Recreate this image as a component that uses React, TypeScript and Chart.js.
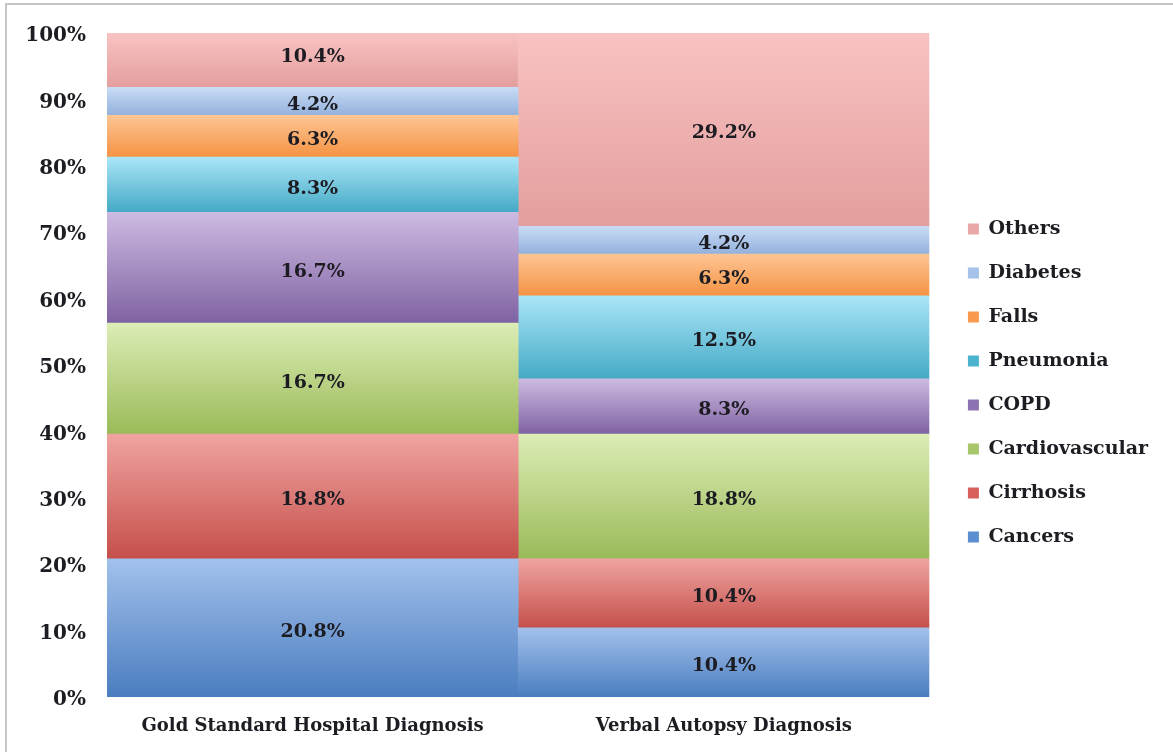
import React, { useEffect, useRef } from "react";
import { Chart, registerables } from "chart.js";

Chart.register(...registerables);

// ---- data ----
const categories = ["Gold Standard Hospital Diagnosis", "Verbal Autopsy Diagnosis"];
const seriesNames = ["Cancers", "Cirrhosis", "Cardiovascular", "COPD", "Pneumonia", "Falls", "Diabetes", "Others"];
const cancers = [20.8, 10.4];
const cirrhosis = [18.8, 10.4];
const cardiovascular = [16.7, 18.8];
const copd = [16.7, 8.3];
const pneumonia = [8.3, 12.5];
const falls = [6.3, 6.3];
const diabetes = [4.2, 4.2];
const others = [10.4, 29.2];
const yTicks = [0, 10, 20, 30, 40, 50, 60, 70, 80, 90, 100];

const seriesValues = [cancers, cirrhosis, cardiovascular, copd, pneumonia, falls, diabetes, others];

// [light top, dark bottom, legend swatch]
const seriesColors: string[][] = [
  ["#a3c1ec", "#4a7dbf", "#5b8fd2"],
  ["#efa4a0", "#c54f4b", "#d8605c"],
  ["#dcedb6", "#9aba58", "#a8c76a"],
  ["#cdbbe2", "#7f62a2", "#8d73b1"],
  ["#aae6f7", "#44a9c6", "#4cb3cf"],
  ["#fdc594", "#f59343", "#f79a50"],
  ["#c9dcf6", "#93b1dc", "#a6c2ea"],
  ["#f9c3c3", "#e39e9d", "#eaa7a7"],
];

const FONT = '"DejaVu Serif", serif';
const TEXT = "#1c1c22";

const makeBg = (di: number) => (ctx: any) => {
  const [light, dark] = seriesColors[di];
  if (ctx.type !== "data") return dark;
  const chart = ctx.chart;
  const y = chart.scales && chart.scales.y;
  const area = chart.chartArea;
  if (!y || !area) return dark;
  let start = 0;
  for (let k = 0; k < di; k++) start += seriesValues[k][ctx.dataIndex];
  const end = start + seriesValues[di][ctx.dataIndex];
  const top = Math.max(y.getPixelForValue(end), area.top);
  const bottom = Math.min(y.getPixelForValue(start), area.bottom);
  if (!(bottom > top)) return dark;
  const g = chart.ctx.createLinearGradient(0, top, 0, bottom);
  g.addColorStop(0, light);
  g.addColorStop(1, dark);
  return g;
};

const valueLabels = {
  id: "valueLabels",
  afterDatasetsDraw(chart: any) {
    const { ctx, chartArea } = chart;
    ctx.save();
    ctx.font = `bold 19px ${FONT}`;
    ctx.fillStyle = TEXT;
    ctx.textAlign = "center";
    ctx.textBaseline = "middle";
    chart.data.datasets.forEach((ds: any, i: number) => {
      const meta = chart.getDatasetMeta(i);
      meta.data.forEach((el: any, j: number) => {
        const { x, y, base } = el.getProps(["x", "y", "base"], true);
        const top = Math.min(y, base);
        const bottom = Math.max(y, base);
        if (bottom <= chartArea.top) return;
        let cy = (top + bottom) / 2 + 4;
        const visTop = Math.max(top, chartArea.top);
        if (cy < visTop + 12) cy = (visTop + bottom) / 2;
        ctx.fillText(Number(ds.data[j]).toFixed(1) + "%", x, cy);
      });
    });
    ctx.restore();
  },
};

const legendShift = {
  id: "legendShift",
  beforeDraw(chart: any) {
    const lg = chart.legend;
    if (!lg) return;
    const w = lg.width;
    const h = lg.height;
    lg.left = chart.chartArea.right + 13.5;
    lg.right = lg.left + w;
    lg.top = chart.chartArea.top - 10.5;
    lg.bottom = lg.top + h;
  },
};

export default function App() {
  const ref = useRef<HTMLCanvasElement | null>(null);

  useEffect(() => {
    if (!ref.current) return;
    const chart = new Chart(ref.current, {
      type: "bar",
      data: {
        labels: categories,
        datasets: seriesNames.map((name, i) => ({
          label: name,
          data: seriesValues[i],
          backgroundColor: makeBg(i),
          borderWidth: 0,
          barPercentage: 1,
          categoryPercentage: 1,
        })),
      },
      options: {
        animation: false,
        responsive: false,
        layout: { padding: { left: 0, right: 28.5, top: 31, bottom: 0 } },
        plugins: {
          legend: {
            position: "right",
            reverse: true,
            labels: {
              boxWidth: 11,
              boxHeight: 11,
              padding: 25,
              color: TEXT,
              font: { family: FONT, size: 19, weight: "bold" },
              generateLabels: (chart: any) => {
                const items = Chart.defaults.plugins.legend.labels.generateLabels(chart);
                return items.map((it: any) => ({
                  ...it,
                  fillStyle: seriesColors[it.datasetIndex][2],
                  strokeStyle: seriesColors[it.datasetIndex][2],
                  lineWidth: 0,
                }));
              },
            },
          },
          tooltip: { enabled: false },
        },
        scales: {
          x: {
            stacked: true,
            grid: { display: false, drawTicks: false },
            border: { display: false },
            afterFit: (s: any) => {
              s.height = 55;
            },
            ticks: {
              padding: 19,
              color: TEXT,
              font: { family: FONT, size: 18, weight: "bold" },
              maxRotation: 0,
            },
          },
          y: {
            stacked: true,
            min: 0,
            max: 100,
            grid: { display: false, drawTicks: false },
            border: { display: false },
            afterFit: (s: any) => {
              s.width = 107;
            },
            afterBuildTicks: (s: any) => {
              s.ticks = yTicks.map((v) => ({ value: v }));
            },
            ticks: {
              padding: 21,
              labelOffset: 3,
              color: TEXT,
              font: { family: FONT, size: 20, weight: "bold" },
              callback: (v: any) => v + "%",
            },
          },
        },
      },
      plugins: [valueLabels, legendShift],
    } as any);
    return () => chart.destroy();
  }, []);

  return (
    <div style={{ position: "absolute", left: 0, top: 0, width: 1173, height: 752, background: "#fff", overflow: "hidden" }}>
      <div
        style={{
          position: "absolute",
          left: 5,
          top: 3,
          right: 0,
          bottom: 0,
          borderTop: "2px solid #c6c6c6",
          borderLeft: "2px solid #c6c6c6",
        }}
      />
      <canvas ref={ref} width={1173} height={752} style={{ position: "absolute", left: 0, top: 0, width: 1173, height: 752 }} />
    </div>
  );
}
